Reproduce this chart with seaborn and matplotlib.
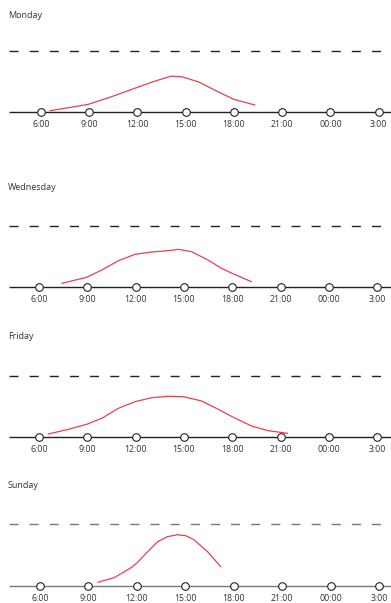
import matplotlib
matplotlib.use("Agg")
import matplotlib.pyplot as plt
import seaborn as sns
import pandas as pd

sns.set_style("white")
plt.rcParams['font.family'] = ['Open Sans', 'DejaVu Sans']
plt.rcParams['lines.scale_dashes'] = False

# ---------------- data ----------------
days = ["Monday", "Wednesday", "Friday", "Sunday"]
tick_hours = [6, 9, 12, 15, 18, 21, 24, 27]
tick_labels = ["6:00", "9:00", "12:00", "15:00", "18:00", "21:00", "00:00", "3:00"]

monday_hours = [6.56, 7.7, 8.94, 10.4, 12.0, 13.1, 14.1, 14.75, 15.8, 17.0, 18.0, 19.3]
monday_vals = [2.6, 7.5, 13, 25.6, 40.8, 51, 59, 58, 49.6, 33.6, 21.2, 11.9]

wednesday_hours = [7.41, 8.96, 9.9, 10.93, 11.96, 13.0, 14.03, 14.65, 15.48, 16.5, 17.33, 17.99, 19.2]
wednesday_vals = [6.5, 16.3, 28.2, 43.4, 53.8, 57.6, 59.8, 62, 58.1, 44.5, 31, 22.8, 9.1]

friday_hours = [6.58, 7.82, 8.96, 9.9, 10.93, 11.96, 13.0, 14.03, 14.98, 16.1, 17.13, 18.0, 19.2, 20.24, 20.97, 21.45]
friday_vals = [5.4, 13, 21.2, 31, 47.3, 58.1, 64.6, 66.9, 66.2, 59.2, 45.7, 33.6, 18.4, 10.8, 8.2, 6.5]

sunday_hours = [9.58, 10.6, 11.64, 12.05, 12.67, 13.29, 13.9, 14.53, 15.04, 15.56, 16.38, 17.2]
sunday_vals = [6, 13.5, 29.7, 38.4, 55.6, 71.8, 80, 83.1, 81.5, 74.6, 55.6, 31.3]

series_hours = [monday_hours, wednesday_hours, friday_hours, sunday_hours]
series_vals = [monday_vals, wednesday_vals, friday_vals, sunday_vals]

# ---------------- layout (pixels) ----------------
W, H = 391, 603
DPI = 100
fig = plt.figure(figsize=(W / DPI, H / DPI), dpi=DPI)

# (title_y, dashed_y, baseline_y, x_of_6h, px_per_hour, line color)
panels = [
    (15.0, 51.0, 112.3, 41.0, 16.08, "#222222"),
    (187.3, 226.0, 287.3, 39.0, 16.1, "#222222"),
    (336.7, 376.0, 437.3, 39.0, 16.1, "#222222"),
    (485.0, 524.3, 586.0, 40.0, 16.14, "#777777"),
]

red = "#e8404f"

for i, day in enumerate(days):
    ty, dy, by, x6, pph, lc = panels[i]
    k = 100.0 / (by - dy)  # data units per pixel
    top_px = dy - 20
    bot_px = by + 5
    ax = fig.add_axes([0, 1 - bot_px / H, 1, (bot_px - top_px) / H])
    xmin = 6 - x6 / pph
    xmax = 6 + (W - x6) / pph
    ax.set_xlim(xmin, xmax)
    ax.set_ylim(-5 * k, 100 + 20 * k)
    for s in ax.spines.values():
        s.set_visible(False)
    ax.set_yticks([])

    xstart = 6 - (x6 - 9) / pph
    ax.hlines(0, xstart, xmax, color=lc, lw=1.0, zorder=1)
    ax.hlines(100, xstart, xmax, color=lc, lw=1.0, linestyles=(0, (6.5, 8.0)), zorder=1)

    df = pd.DataFrame({"hour": series_hours[i], "value": series_vals[i]})
    sns.lineplot(data=df, x="hour", y="value", ax=ax, color=red, lw=0.9, zorder=2)

    dm = pd.DataFrame({"hour": tick_hours, "value": [0] * len(tick_hours)})
    sns.scatterplot(data=dm, x="hour", y="value", ax=ax, s=30, facecolor="white",
                    edgecolor="#222222", linewidth=0.8, zorder=3, clip_on=False)

    ax.set_xticks(tick_hours)
    ax.set_xticklabels(tick_labels, fontsize=6.3, color="#333333")
    ax.tick_params(axis="x", length=0, pad=2)
    ax.set_xlabel("")
    ax.set_ylabel("")

    fig.text(8 / W, 1 - ty / H, day, fontsize=6.5, color="#333333", va="center", ha="left")

fig.savefig("out.png", dpi=DPI)
